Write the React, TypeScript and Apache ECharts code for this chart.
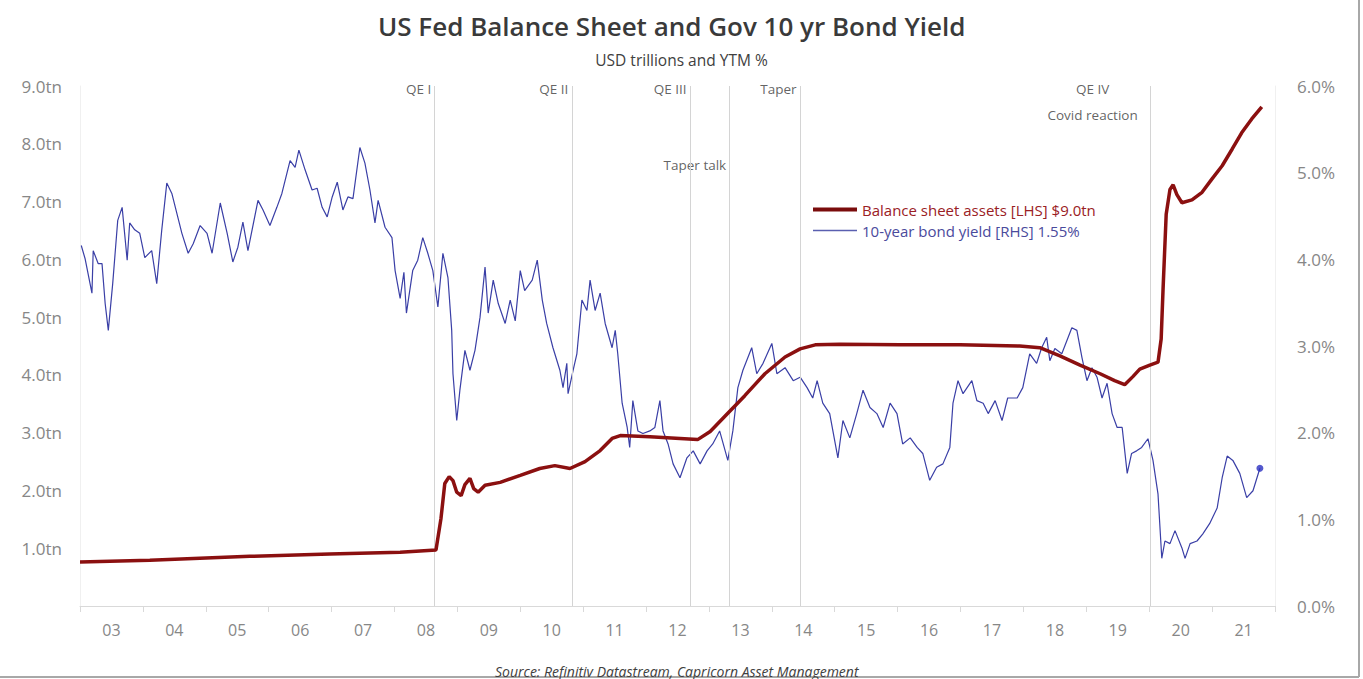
import React, { useEffect, useRef } from 'react';
import * as echarts from 'echarts';

const yearLabels = ['03', '04', '05', '06', '07', '08', '09', '10', '11', '12', '13', '14', '15', '16', '17', '18', '19', '20', '21'];

const bsDates = [2003.0, 2004.11, 2005.7, 2006.97, 2008.09, 2008.66, 2008.74, 2008.8, 2008.87, 2008.93, 2008.99, 2009.06, 2009.12, 2009.2, 2009.26, 2009.33, 2009.44, 2009.68, 2010.0, 2010.31, 2010.55, 2010.79, 2011.03, 2011.27, 2011.46, 2011.59, 2012.06, 2012.54, 2012.82, 2013.02, 2013.25, 2013.57, 2013.89, 2014.21, 2014.45, 2014.69, 2015.08, 2016.04, 2016.99, 2017.94, 2018.26, 2018.58, 2018.9, 2019.22, 2019.45, 2019.61, 2019.74, 2019.85, 2020.01, 2020.14, 2020.19, 2020.22, 2020.27, 2020.33, 2020.38, 2020.44, 2020.52, 2020.68, 2020.84, 2020.99, 2021.16, 2021.32, 2021.47, 2021.63, 2021.79];
const bsValues = [0.76, 0.79, 0.86, 0.9, 0.93, 0.97, 1.52, 2.12, 2.24, 2.17, 1.97, 1.91, 2.1, 2.21, 2.03, 1.97, 2.09, 2.14, 2.26, 2.38, 2.43, 2.38, 2.5, 2.69, 2.9, 2.95, 2.93, 2.9, 2.88, 3.02, 3.28, 3.64, 4.02, 4.31, 4.45, 4.52, 4.53, 4.52, 4.52, 4.5, 4.47, 4.33, 4.17, 4.02, 3.9, 3.83, 3.97, 4.1, 4.17, 4.22, 4.62, 5.48, 6.78, 7.21, 7.29, 7.12, 6.98, 7.03, 7.16, 7.38, 7.62, 7.91, 8.19, 8.43, 8.64];

const yieldDates = [2003.02, 2003.08, 2003.19, 2003.21, 2003.29, 2003.35, 2003.4, 2003.45, 2003.52, 2003.6, 2003.67, 2003.75, 2003.79, 2003.87, 2003.95, 2004.03, 2004.14, 2004.22, 2004.3, 2004.38, 2004.46, 2004.54, 2004.62, 2004.72, 2004.8, 2004.91, 2005.02, 2005.1, 2005.23, 2005.34, 2005.43, 2005.51, 2005.59, 2005.67, 2005.83, 2005.91, 2006.02, 2006.13, 2006.21, 2006.34, 2006.42, 2006.48, 2006.58, 2006.69, 2006.77, 2006.85, 2006.93, 2007.01, 2007.09, 2007.18, 2007.26, 2007.34, 2007.45, 2007.53, 2007.61, 2007.69, 2007.74, 2007.85, 2007.96, 2008.01, 2008.09, 2008.15, 2008.19, 2008.29, 2008.37, 2008.45, 2008.53, 2008.61, 2008.69, 2008.77, 2008.85, 2008.91, 2008.93, 2008.99, 2009.04, 2009.12, 2009.2, 2009.28, 2009.36, 2009.44, 2009.49, 2009.57, 2009.65, 2009.76, 2009.84, 2009.92, 2010.0, 2010.07, 2010.19, 2010.27, 2010.35, 2010.42, 2010.52, 2010.63, 2010.68, 2010.74, 2010.76, 2010.84, 2010.9, 2010.98, 2011.06, 2011.11, 2011.19, 2011.27, 2011.35, 2011.46, 2011.51, 2011.55, 2011.62, 2011.7, 2011.74, 2011.79, 2011.87, 2011.95, 2012.06, 2012.14, 2012.22, 2012.27, 2012.35, 2012.43, 2012.54, 2012.65, 2012.75, 2012.86, 2012.97, 2013.06, 2013.17, 2013.3, 2013.38, 2013.46, 2013.54, 2013.68, 2013.76, 2013.86, 2014.0, 2014.08, 2014.21, 2014.34, 2014.45, 2014.56, 2014.65, 2014.72, 2014.81, 2014.92, 2015.05, 2015.13, 2015.24, 2015.35, 2015.45, 2015.56, 2015.67, 2015.77, 2015.88, 2015.99, 2016.08, 2016.2, 2016.31, 2016.4, 2016.51, 2016.62, 2016.72, 2016.83, 2016.88, 2016.96, 2017.04, 2017.18, 2017.26, 2017.36, 2017.44, 2017.55, 2017.66, 2017.75, 2017.9, 2017.99, 2018.1, 2018.21, 2018.29, 2018.37, 2018.42, 2018.5, 2018.61, 2018.69, 2018.77, 2018.85, 2018.93, 2019.01, 2019.09, 2019.17, 2019.25, 2019.33, 2019.41, 2019.49, 2019.57, 2019.65, 2019.72, 2019.8, 2019.88, 2019.98, 2020.06, 2020.14, 2020.2, 2020.25, 2020.33, 2020.41, 2020.52, 2020.57, 2020.65, 2020.76, 2020.85, 2020.96, 2021.08, 2021.16, 2021.24, 2021.33, 2021.44, 2021.55, 2021.65, 2021.76];
const yieldValues = [4.16, 4.01, 3.61, 4.1, 3.95, 3.95, 3.49, 3.18, 3.72, 4.45, 4.6, 3.99, 4.42, 4.34, 4.3, 4.02, 4.1, 3.72, 4.34, 4.88, 4.76, 4.53, 4.3, 4.07, 4.18, 4.39, 4.3, 4.07, 4.65, 4.3, 3.97, 4.14, 4.43, 4.1, 4.68, 4.57, 4.39, 4.6, 4.76, 5.14, 5.06, 5.26, 5.03, 4.8, 4.82, 4.6, 4.49, 4.72, 4.89, 4.57, 4.72, 4.7, 5.29, 5.11, 4.8, 4.42, 4.68, 4.37, 4.25, 3.87, 3.55, 3.85, 3.38, 3.87, 3.99, 4.25, 4.07, 3.87, 3.45, 4.07, 3.79, 3.18, 2.68, 2.14, 2.49, 2.95, 2.72, 2.95, 3.33, 3.91, 3.38, 3.76, 3.49, 3.26, 3.53, 3.29, 3.87, 3.64, 3.76, 3.99, 3.53, 3.26, 2.98, 2.72, 2.52, 2.8, 2.45, 2.72, 2.91, 3.53, 3.41, 3.76, 3.41, 3.61, 3.26, 2.98, 3.18, 2.91, 2.34, 2.06, 1.83, 2.37, 2.02, 1.99, 2.02, 2.06, 2.37, 2.02, 1.87, 1.64, 1.48, 1.71, 1.79, 1.64, 1.79, 1.87, 2.02, 1.68, 2.02, 2.52, 2.72, 2.98, 2.68, 2.8, 3.03, 2.68, 2.75, 2.6, 2.64, 2.52, 2.4, 2.6, 2.34, 2.22, 1.71, 2.14, 1.94, 2.22, 2.49, 2.29, 2.22, 2.06, 2.34, 2.22, 1.87, 1.94, 1.83, 1.76, 1.45, 1.6, 1.64, 1.83, 2.34, 2.6, 2.45, 2.6, 2.37, 2.34, 2.22, 2.37, 2.14, 2.4, 2.4, 2.52, 2.91, 2.8, 2.98, 3.1, 2.83, 2.97, 2.91, 3.06, 3.21, 3.18, 2.87, 2.6, 2.75, 2.64, 2.4, 2.57, 2.22, 2.06, 2.06, 1.53, 1.76, 1.79, 1.83, 1.93, 1.68, 1.29, 0.55, 0.75, 0.72, 0.87, 0.67, 0.55, 0.72, 0.75, 0.83, 0.95, 1.13, 1.48, 1.73, 1.68, 1.53, 1.25, 1.33, 1.59];

const eventDates = [2008.64, 2010.82, 2012.7, 2013.33, 2014.45, 2020.01];

const noteTexts = ['QE I', 'QE II', 'QE III', 'Taper talk', 'Taper', 'QE IV', 'Covid reaction'];
const noteDates = [2008.64, 2010.82, 2012.7, 2013.33, 2014.45, 2019.1, 2019.1];
const noteLevels = [5.96, 5.96, 5.96, 5.09, 5.96, 5.96, 5.66];
const notePlacement = ['left', 'left', 'left', 'left', 'left', 'inside', 'inside'];

const bsName = 'Balance sheet assets [LHS] $9.0tn';
const yieldName = '10-year bond yield [RHS] 1.55%';

export default function App() {
  const ref = useRef<HTMLDivElement>(null);
  useEffect(() => {
    document.body.style.margin = '0';
    const chart = echarts.init(ref.current!, null, { renderer: 'svg' });
    const font = 'Open Sans';
    const zip = (a: number[], b: number[]) => a.map((d, i) => [d, b[i]]);
    const axisGray = '#878787';
    chart.setOption({
      animation: false,
      backgroundColor: '#ffffff',
      textStyle: { fontFamily: font },
      title: [
        {
          text: 'US Fed Balance Sheet and Gov 10 yr Bond Yield',
          left: 373,
          top: 8,
          textStyle: { fontFamily: font, fontSize: 26, fontWeight: 600, color: '#3a3a3a' },
        },
        {
          text: 'USD trillions and YTM %',
          left: 'center',
          top: 47,
          textStyle: { fontFamily: font, fontSize: 15.5, fontWeight: 'normal', color: '#404040' },
        },
        {
          text: 'Source: Refinitiv Datastream, Capricorn Asset Management',
          left: 490,
          top: 659,
          textStyle: { fontFamily: font, fontSize: 14, fontStyle: 'italic', fontWeight: 'normal', color: '#404040' },
        },
      ],
      legend: {
        orient: 'vertical',
        left: 808,
        top: 197,
        itemWidth: 44,
        itemHeight: 12,
        itemGap: 6,
        symbolKeepAspect: true,
        textStyle: { fontFamily: font, fontSize: 15 },
        data: [
          { name: bsName, icon: 'path://M0,0L44,0L44,4L0,4Z', textStyle: { color: '#9a2024' } },
          { name: yieldName, icon: 'path://M0,0L44,0L44,1.3L0,1.3Z', textStyle: { color: '#4a4a9c' } },
        ],
      },
      grid: { left: 80, right: 88, top: 86, bottom: 73, containLabel: false },
      xAxis: [
        { type: 'value', min: 2003, max: 2022, show: false },
        {
          type: 'category',
          data: yearLabels,
          position: 'bottom',
          boundaryGap: true,
          axisLine: { show: true, lineStyle: { color: '#d9d9d9' } },
          axisTick: { show: true, length: 6, lineStyle: { color: '#d9d9d9' } },
          axisLabel: { color: axisGray, fontFamily: font, fontSize: 16, margin: 16 },
          splitLine: { show: false },
        },
      ],
      yAxis: [
        {
          type: 'value',
          min: 0,
          max: 9,
          interval: 1,
          position: 'left',
          axisLine: { show: true, lineStyle: { color: '#f0f0f0' } },
          axisTick: { show: false },
          splitLine: { show: false },
          axisLabel: {
            color: axisGray,
            fontFamily: font,
            fontSize: 17,
            margin: 18,
            formatter: (v: number) => (v === 0 ? '' : v.toFixed(1) + 'tn'),
          },
        },
        {
          type: 'value',
          min: 0,
          max: 6,
          interval: 1,
          position: 'right',
          axisLine: { show: true, lineStyle: { color: '#f0f0f0' } },
          axisTick: { show: false },
          splitLine: { show: false },
          axisLabel: {
            color: axisGray,
            fontFamily: font,
            fontSize: 17,
            margin: 22,
            formatter: (v: number) => v.toFixed(1) + '%',
          },
        },
      ],
      series: [
        {
          name: 'notes',
          type: 'scatter',
          xAxisIndex: 0,
          yAxisIndex: 1,
          z: 1,
          silent: true,
          symbolSize: 1,
          itemStyle: { color: 'rgba(0,0,0,0)' },
          data: noteTexts.map((t, i) => ({
            value: [noteDates[i], noteLevels[i]],
            label: {
              show: true,
              formatter: t,
              position: notePlacement[i],
              distance: 3,
              color: '#3a3a3a',
              fontFamily: font,
              fontSize: 13.5,
            },
          })),
          markLine: {
            silent: true,
            symbol: ['none', 'none'],
            label: { show: false },
            lineStyle: { color: '#d4d4d4', width: 1, type: 'solid' },
            data: eventDates.map((d) => ({ xAxis: d })),
          },
        },
        {
          name: yieldName,
          type: 'line',
          xAxisIndex: 0,
          yAxisIndex: 1,
          z: 3,
          symbol: 'none',
          lineStyle: { color: '#3a3fa6', width: 1.2 },
          itemStyle: { color: '#5a5fb0' },
          data: zip(yieldDates, yieldValues),
        },
        {
          name: 'yield-end',
          type: 'scatter',
          xAxisIndex: 0,
          yAxisIndex: 1,
          z: 4,
          symbolSize: 7,
          itemStyle: { color: '#2a2fc0' },
          data: [[yieldDates[yieldDates.length - 1], yieldValues[yieldValues.length - 1]]],
        },
        {
          name: bsName,
          type: 'line',
          xAxisIndex: 0,
          yAxisIndex: 0,
          z: 5,
          symbol: 'none',
          lineStyle: { color: '#8b1010', width: 3.5 },
          itemStyle: { color: '#7a0c0c' },
          data: zip(bsDates, bsValues),
        },
      ],
      graphic: [
        { type: 'line', shape: { x1: 1359, y1: 0, x2: 1359, y2: 677 }, style: { stroke: '#a8a8a8', lineWidth: 2 } },
        { type: 'line', shape: { x1: 0, y1: 677, x2: 1359, y2: 677 }, style: { stroke: '#a8a8a8', lineWidth: 2 } },
      ],
    });
    return () => chart.dispose();
  }, []);
  return <div ref={ref} style={{ width: 1363, height: 679 }} />;
}
